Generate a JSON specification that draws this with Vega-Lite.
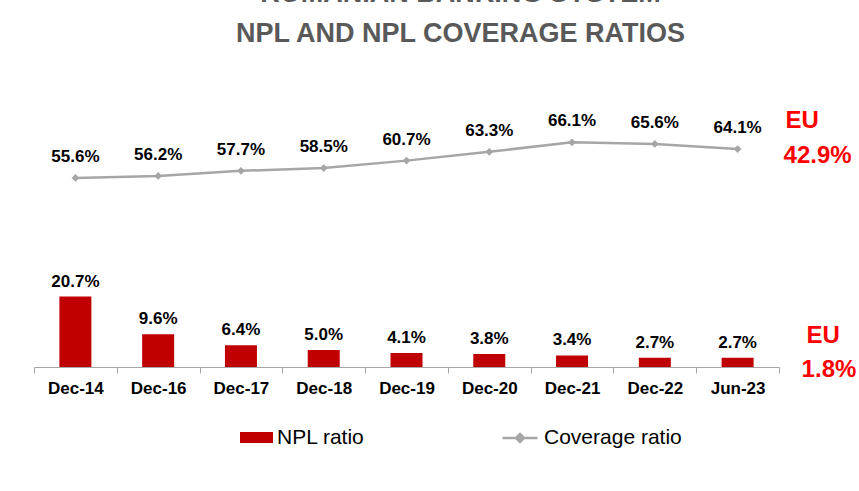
{
  "$schema": "https://vega.github.io/schema/vega-lite/v6.json",
  "width": 745,
  "height": 272,
  "autosize": "none",
  "padding": {"left": 34, "top": 95, "right": 80, "bottom": 124},
  "background": "white",
  "config": {
    "view": {"stroke": null},
    "font": "Liberation Sans"
  },
  "title": {
    "text": ["ROMANIAN BANKING SYSTEM", "NPL AND NPL COVERAGE RATIOS"],
    "font": "Liberation Sans",
    "fontSize": 27,
    "fontWeight": "bold",
    "color": "#595959",
    "lineHeight": 40,
    "anchor": "middle",
    "frame": "group",
    "dx": 54,
    "offset": 47
  },
  "data": {
    "values": [
      {"date": "Dec-14", "npl": 0.207, "coverage": 0.556},
      {"date": "Dec-16", "npl": 0.096, "coverage": 0.562},
      {"date": "Dec-17", "npl": 0.064, "coverage": 0.577},
      {"date": "Dec-18", "npl": 0.050, "coverage": 0.585},
      {"date": "Dec-19", "npl": 0.041, "coverage": 0.607},
      {"date": "Dec-20", "npl": 0.038, "coverage": 0.633},
      {"date": "Dec-21", "npl": 0.034, "coverage": 0.661},
      {"date": "Dec-22", "npl": 0.027, "coverage": 0.656},
      {"date": "Jun-23", "npl": 0.027, "coverage": 0.641, "euNpl": 0.018, "euCoverage": 0.429}
    ]
  },
  "encoding": {
    "x": {
      "field": "date",
      "type": "ordinal",
      "sort": null,
      "scale": {"paddingInner": 0, "paddingOuter": 0},
      "axis": {
        "title": null,
        "labelAngle": 0,
        "labelFont": "Liberation Sans",
        "labelFontSize": 17,
        "labelFontWeight": "bold",
        "labelColor": "#000000",
        "labelPadding": 7,
        "domainColor": "#A6A6A6",
        "domainWidth": 1,
        "tickColor": "#A6A6A6",
        "tickSize": 6,
        "tickBand": "extent",
        "grid": false
      }
    }
  },
  "layer": [
    {
      "mark": {"type": "bar", "width": 32},
      "encoding": {
        "y": {"field": "npl", "type": "quantitative", "scale": {"domain": [0, 0.8]}, "axis": null},
        "fill": {
          "datum": "NPL ratio",
          "type": "nominal",
          "scale": {"domain": ["NPL ratio"], "range": ["#C00000"]},
          "legend": {
            "title": null,
            "orient": "none",
            "legendX": 206,
            "legendY": 326,
            "padding": 0,
            "symbolType": "M-1,-0.333H1V0.333H-1Z",
            "symbolSize": 1089,
            "symbolStrokeWidth": 0,
            "labelFont": "Liberation Sans",
            "labelFontSize": 21,
            "labelColor": "#000000",
            "labelOffset": 4
          }
        }
      }
    },
    {
      "mark": {"type": "text", "font": "Liberation Sans", "fontSize": 17, "fontWeight": "bold", "color": "#000000", "baseline": "alphabetic", "dy": -10},
      "encoding": {
        "y": {"field": "npl", "type": "quantitative"},
        "text": {"field": "npl", "type": "quantitative", "format": ".1%"}
      }
    },
    {
      "mark": {"type": "line", "strokeWidth": 2.5},
      "encoding": {
        "y": {"field": "coverage", "type": "quantitative"},
        "stroke": {
          "datum": "Coverage ratio",
          "type": "nominal",
          "scale": {"domain": ["Coverage ratio"], "range": ["#A6A6A6"]},
          "legend": {
            "title": null,
            "orient": "none",
            "legendX": 467,
            "legendY": 324,
            "padding": 0,
            "symbolType": "M-1,0H1M0,-0.23L0.23,0L0,0.23L-0.23,0Z",
            "symbolSize": 1225,
            "symbolStrokeWidth": 2.5,
            "symbolFillColor": "#A6A6A6",
            "labelFont": "Liberation Sans",
            "labelFontSize": 21,
            "labelColor": "#000000",
            "labelOffset": 5
          }
        }
      }
    },
    {
      "mark": {"type": "point", "shape": "diamond", "filled": true, "size": 60, "color": "#A6A6A6", "opacity": 1},
      "encoding": {
        "y": {"field": "coverage", "type": "quantitative"}
      }
    },
    {
      "mark": {"type": "text", "font": "Liberation Sans", "fontSize": 17, "fontWeight": "bold", "color": "#000000", "baseline": "alphabetic", "dy": -16},
      "encoding": {
        "y": {"field": "coverage", "type": "quantitative"},
        "text": {"field": "coverage", "type": "quantitative", "format": ".1%"}
      }
    },
    {
      "transform": [{"filter": "isValid(datum.euCoverage)"}],
      "mark": {"type": "text", "font": "Liberation Sans", "fontSize": 24, "fontWeight": "bold", "color": "#FF0000", "align": "left", "baseline": "alphabetic", "dx": 48, "dy": -21, "text": "EU"},
      "encoding": {
        "y": {"field": "coverage", "type": "quantitative"}
      }
    },
    {
      "transform": [{"filter": "isValid(datum.euCoverage)"}],
      "mark": {"type": "text", "font": "Liberation Sans", "fontSize": 24, "fontWeight": "bold", "color": "#FF0000", "align": "left", "baseline": "alphabetic", "dx": 46, "dy": 14},
      "encoding": {
        "y": {"field": "coverage", "type": "quantitative"},
        "text": {"field": "euCoverage", "type": "quantitative", "format": ".1%"}
      }
    },
    {
      "transform": [{"filter": "isValid(datum.euNpl)"}],
      "mark": {"type": "text", "font": "Liberation Sans", "fontSize": 24, "fontWeight": "bold", "color": "#FF0000", "align": "left", "baseline": "alphabetic", "dx": 69, "dy": -15, "text": "EU"},
      "encoding": {
        "y": {"field": "npl", "type": "quantitative"}
      }
    },
    {
      "transform": [{"filter": "isValid(datum.euNpl)"}],
      "mark": {"type": "text", "font": "Liberation Sans", "fontSize": 24, "fontWeight": "bold", "color": "#FF0000", "align": "left", "baseline": "alphabetic", "dx": 64, "dy": 19},
      "encoding": {
        "y": {"field": "npl", "type": "quantitative"},
        "text": {"field": "euNpl", "type": "quantitative", "format": ".1%"}
      }
    }
  ],
  "resolve": {"scale": {"y": "shared"}}
}
